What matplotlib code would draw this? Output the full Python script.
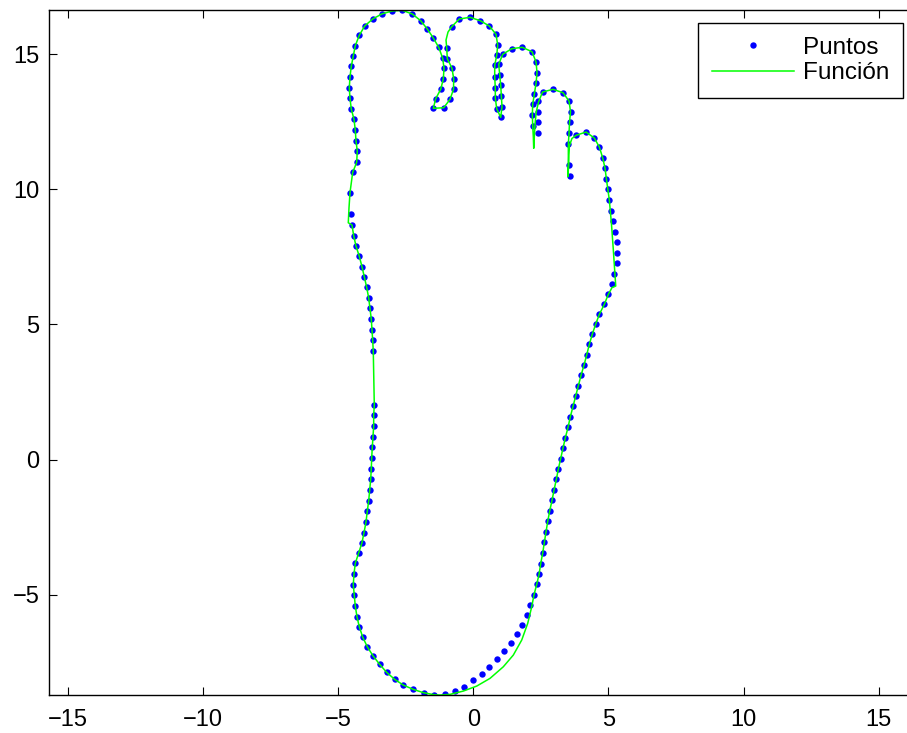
"""Contorno de un pie: puntos medidos y curva ajustada"""

import matplotlib
matplotlib.use('Agg')
import matplotlib.pyplot as plt

plt.rcParams['font.family'] = ['Liberation Sans', 'DejaVu Sans']

# Puntos medidos (contorno del pie)
px = [-1.443, -1.836, -2.221, -2.591, -2.909, -3.205, -3.464, -3.712, -3.923, -4.093,
      -4.219, -4.304, -4.367, -4.404, -4.441, -4.415, -4.367, -4.241, -4.119, -4.045,
      -3.971, -3.923, -3.871, -3.834, -3.797, -3.775, -3.760, -3.738, -3.712, -3.686,
      -3.686, -3.664, -3.701, -3.723, -3.749, -3.775, -3.823, -3.871, -3.945, -4.034,
      -4.119, -4.219, -4.341, -4.426, -4.489, -4.537, -4.563, -4.463, -4.315, -4.293,
      -4.341, -4.367, -4.415, -4.515, -4.563, -4.589, -4.563, -4.515, -4.441, -4.367,
      -4.219, -4.019, -3.723, -3.390, -3.009, -2.628, -2.258, -1.947, -1.702, -1.480,
      -1.281, -1.132, -1.084, -1.110, -1.207, -1.392, -1.480, -1.095, -0.862, -0.733,
      -0.725, -0.788, -0.962, -0.984, -0.799, -0.518, -0.122, 0.259, 0.592, 0.840,
      0.903, 0.866, 0.792, 0.792, 0.814, 0.814, 0.866, 1.014, 1.062, 1.036,
      1.014, 0.977, 0.940, 1.088, 1.421, 1.813, 2.172, 2.321, 2.358, 2.321,
      2.258, 2.198, 2.184, 2.198, 2.395, 2.383, 2.376, 2.406, 2.561, 2.950,
      3.320, 3.542, 3.597, 3.560, 3.542, 3.516, 3.531, 3.579, 3.801, 4.171,
      4.478, 4.663, 4.789, 4.874, 4.922, 4.978, 5.033, 5.096, 5.170, 5.244,
      5.307, 5.329, 5.307, 5.218, 5.133, 4.996, 4.848, 4.663, 4.530, 4.404,
      4.293, 4.197, 4.097, 3.986, 3.886, 3.790, 3.690, 3.590, 3.505, 3.405,
      3.320, 3.235, 3.146, 3.072, 2.987, 2.913, 2.828, 2.754, 2.691, 2.628,
      2.568, 2.494, 2.432, 2.346, 2.246, 2.110, 1.976, 1.813, 1.617, 1.384,
      1.125, 0.866, 0.592, 0.311, 0.000, -0.333, -0.677, -1.058]
py = [-8.701, -8.627, -8.502, -8.343, -8.132, -7.873, -7.577, -7.259, -6.926, -6.567,
      -6.186, -5.816, -5.420, -5.013, -4.632, -4.236, -3.840, -3.459, -3.078, -2.708,
      -2.312, -1.916, -1.524, -1.128, -0.733, -0.340, 0.055, 0.451, 0.844, 1.239,
      1.635, 2.027, 4.003, 4.410, 4.802, 5.198, 5.594, 5.975, 6.371, 6.752,
      7.133, 7.518, 7.899, 8.280, 8.676, 9.071, 9.871, 10.625, 10.995, 11.413,
      11.794, 12.190, 12.586, 12.967, 13.363, 13.755, 14.151, 14.547, 14.928, 15.309,
      15.694, 16.038, 16.297, 16.482, 16.593, 16.618, 16.482, 16.234, 15.927, 15.594,
      15.250, 14.843, 14.473, 14.077, 13.696, 13.348, 12.993, 13.015, 13.326, 13.696,
      14.077, 14.473, 14.828, 15.224, 16.012, 16.297, 16.360, 16.234, 16.038, 15.731,
      15.335, 14.954, 14.584, 14.162, 13.733, 13.374, 12.978, 12.660, 13.052, 13.448,
      13.844, 14.236, 14.621, 14.991, 15.198, 15.250, 15.087, 14.706, 14.310, 13.918,
      13.533, 13.141, 12.756, 12.349, 12.068, 12.475, 12.867, 13.263, 13.596, 13.696,
      13.570, 13.263, 12.867, 12.475, 12.068, 11.672, 10.895, 10.488, 11.994, 12.116,
      11.894, 11.561, 11.154, 10.777, 10.396, 9.996, 9.600, 9.205, 8.812, 8.428,
      8.047, 7.651, 7.259, 6.863, 6.482, 6.112, 5.742, 5.372, 5.013, 4.643,
      4.262, 3.877, 3.496, 3.115, 2.730, 2.349, 1.968, 1.583, 1.191, 0.807,
      0.425, 0.030, -0.351, -0.733, -1.128, -1.509, -1.894, -2.286, -2.671, -3.063,
      -3.459, -3.848, -4.247, -4.617, -5.002, -5.383, -5.753, -6.112, -6.456, -6.778,
      -7.074, -7.392, -7.666, -7.925, -8.169, -8.405, -8.576, -8.665]

# Curva ajustada (vértices)
fx = [-1.443, -1.836, -2.221, -2.591, -2.909, -3.205, -3.464, -3.712, -3.923, -4.093,
      -4.219, -4.304, -4.367, -4.404, -4.441, -4.415, -4.367, -4.241, -4.119, -4.045,
      -3.971, -3.923, -3.871, -3.834, -3.797, -3.775, -3.760, -3.738, -3.712, -3.686,
      -3.686, -3.664, -3.701, -3.723, -3.749, -3.775, -3.823, -3.871, -3.945, -4.034,
      -4.119, -4.219, -4.341, -4.426, -4.489, -4.626, -4.600, -4.563, -4.463, -4.315,
      -4.293, -4.341, -4.367, -4.415, -4.515, -4.563, -4.589, -4.563, -4.515, -4.441,
      -4.367, -4.219, -4.019, -3.723, -3.390, -3.009, -2.628, -2.258, -1.947, -1.702,
      -1.480, -1.281, -1.132, -1.084, -1.110, -1.207, -1.392, -1.480, -1.095, -0.862,
      -0.733, -0.725, -0.788, -0.962, -0.984, -1.010, -0.936, -0.799, -0.518, -0.122,
      0.259, 0.592, 0.840, 0.903, 0.866, 0.792, 0.792, 0.814, 0.814, 0.866,
      1.014, 1.062, 1.036, 1.014, 0.977, 0.940, 1.088, 1.421, 1.813, 2.172,
      2.321, 2.358, 2.321, 2.258, 2.198, 2.184, 2.198, 2.221, 2.235, 2.254,
      2.284, 2.328, 2.413, 2.561, 2.950, 3.320, 3.542, 3.597, 3.560, 3.542,
      3.516, 3.516, 3.531, 3.494, 3.516, 3.553, 3.649, 3.801, 4.171, 4.478,
      4.663, 4.789, 4.874, 4.922, 4.978, 5.033, 5.115, 5.181, 5.270, 5.133,
      4.996, 4.848, 4.663, 4.530, 4.404, 4.293, 4.197, 4.097, 3.986, 3.886,
      3.790, 3.690, 3.590, 3.505, 3.405, 3.320, 3.235, 3.146, 3.072, 2.987,
      2.913, 2.828, 2.754, 2.691, 2.628, 2.568, 2.494, 2.432, 2.346, 2.246,
      2.161, 2.013, 1.791, 1.480, 1.110, 0.618, 0.126, -0.370, -0.862, -1.232,
      -1.443]
fy = [-8.701, -8.627, -8.502, -8.343, -8.132, -7.873, -7.577, -7.259, -6.926, -6.567,
      -6.186, -5.816, -5.420, -5.013, -4.632, -4.236, -3.840, -3.459, -3.078, -2.708,
      -2.312, -1.916, -1.524, -1.128, -0.733, -0.340, 0.055, 0.451, 0.844, 1.239,
      1.635, 2.027, 4.003, 4.410, 4.802, 5.198, 5.594, 5.975, 6.371, 6.752,
      7.133, 7.518, 7.899, 8.280, 8.676, 8.759, 9.304, 9.871, 10.625, 10.995,
      11.413, 11.794, 12.190, 12.586, 12.967, 13.363, 13.755, 14.151, 14.547, 14.928,
      15.309, 15.694, 16.038, 16.297, 16.482, 16.593, 16.618, 16.482, 16.234, 15.927,
      15.594, 15.250, 14.843, 14.473, 14.077, 13.696, 13.348, 12.993, 13.015, 13.326,
      13.696, 14.077, 14.473, 14.828, 15.224, 15.520, 15.815, 16.012, 16.297, 16.360,
      16.234, 16.038, 15.731, 15.335, 14.954, 14.584, 14.162, 13.733, 13.374, 12.978,
      12.660, 13.052, 13.448, 13.844, 14.236, 14.621, 14.991, 15.198, 15.250, 15.087,
      14.706, 14.310, 13.918, 13.533, 13.141, 12.756, 12.349, 11.931, 11.513, 11.894,
      12.412, 12.856, 13.226, 13.596, 13.696, 13.570, 13.263, 12.867, 12.475, 12.068,
      11.672, 11.265, 10.895, 10.462, 10.969, 11.598, 11.876, 11.994, 12.116, 11.894,
      11.561, 11.154, 10.777, 10.396, 9.996, 9.600, 8.676, 7.751, 6.419, 6.363,
      6.112, 5.742, 5.372, 5.013, 4.643, 4.262, 3.877, 3.496, 3.115, 2.730,
      2.349, 1.968, 1.583, 1.191, 0.807, 0.425, 0.030, -0.351, -0.733, -1.128,
      -1.509, -1.894, -2.286, -2.671, -3.063, -3.459, -3.848, -4.247, -4.617, -5.002,
      -5.446, -6.060, -6.678, -7.233, -7.666, -8.095, -8.380, -8.565, -8.687, -8.712,
      -8.701]

x_ticks = [-15, -10, -5, 0, 5, 10, 15]
y_ticks = [-5, 0, 5, 10, 15]

fig = plt.figure(figsize=(9.07, 7.33), dpi=100)
# the right edge of the axes lies past the picture, as in the original export
ax = fig.add_axes([49 / 907, 38 / 733, 867 / 907, 685 / 733])

ax.plot(px, py, 'o', color=(0, 0, 1), markersize=4.6, markeredgewidth=0, label='Puntos')
ax.plot(fx, fy, '-', color=(0, 1, 0), linewidth=1.1, label='Función')

ax.set_xlim(-15.70, 16.38)
ax.set_ylim(-8.71, 16.63)
ax.set_xticks(x_ticks)
ax.set_yticks(y_ticks)
ax.tick_params(direction='in', length=6, width=0.8, top=True, right=True, labelsize=17)
ax.tick_params(axis='x', pad=10)
ax.tick_params(axis='y', pad=7)
for s in ax.spines.values():
    s.set_linewidth(1.0)

# legend box: 697..903 px wide, 23..98 px tall in the reference
leg = ax.legend(loc='upper right', bbox_to_anchor=(853.7 / 867, 0.9806), borderaxespad=0,
                fontsize=17.5, numpoints=1, handlelength=3.4, handletextpad=0.35,
                labelspacing=0.15, borderpad=0.55, fancybox=False, framealpha=1)
leg.get_frame().set_edgecolor('black')
leg.get_frame().set_linewidth(1.0)

fig.savefig('out.png', dpi=100)
